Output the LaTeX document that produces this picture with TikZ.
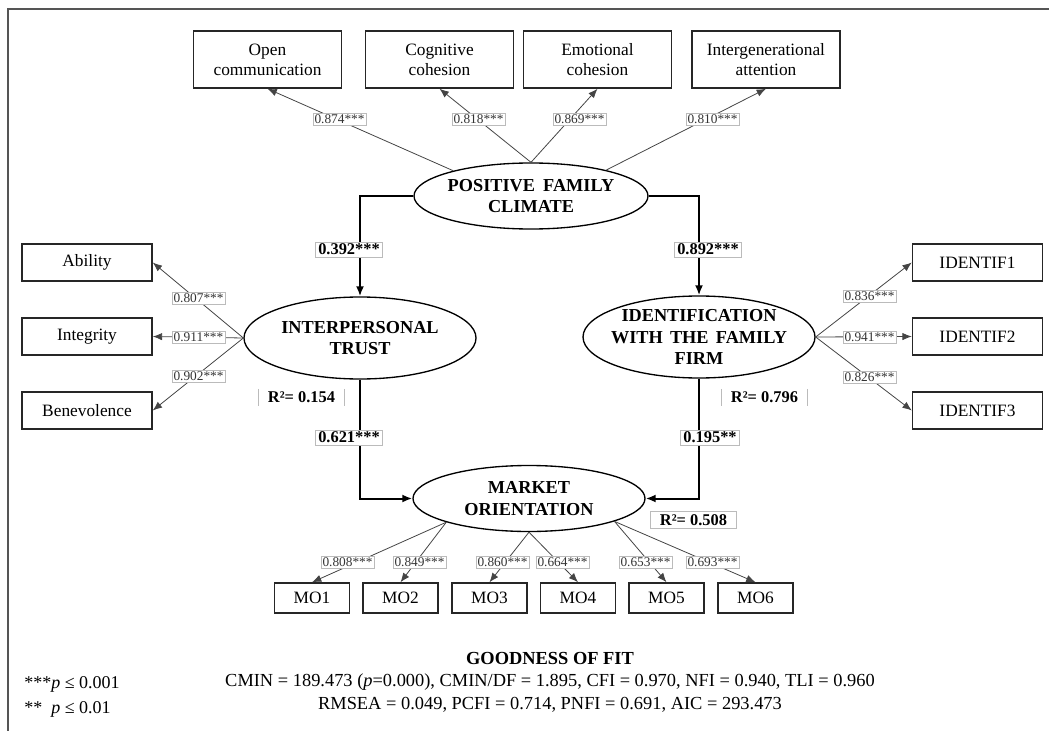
\documentclass[tikz,border=0pt]{standalone}
\usepackage{fontspec}
\setmainfont{Liberation Serif}
\usetikzlibrary{arrows.meta,shapes.geometric}
\definecolor{framecol}{HTML}{555555}
\definecolor{labelborder}{HTML}{BBBBBB}
\definecolor{loadcol}{HTML}{444444}
\begin{document}
\begin{tikzpicture}[x=0.75pt,y=-0.75pt,
  obs/.style={draw=black!85, line width=1.1pt, fill=white, align=center, inner sep=0pt, font=\fontsize{13}{15}\selectfont},
  topbox/.style={obs, minimum width=111pt, minimum height=42.75pt},
  sidebox/.style={obs, minimum width=97.5pt, minimum height=27.75pt},
  mobox/.style={obs, minimum width=56.25pt, minimum height=22.5pt},
  latent/.style={ellipse, draw=black, line width=1pt, inner sep=0pt},
  lattext/.style={align=center, inner sep=0pt, font=\fontsize{13.7}{16}\selectfont\bfseries},
  load/.style={draw=loadcol, line width=0.6pt, -{Latex[length=7pt,width=5.5pt]}},
  struct/.style={draw=black, line width=1.5pt, -{Latex[length=7.5pt,width=6pt]}},
  coef/.style={draw=labelborder, fill=white, line width=0.5pt, inner xsep=1.2pt, inner ysep=1pt, text=black!80, font=\fontsize{10}{11}\selectfont},
  scoef/.style={draw=labelborder, fill=white, line width=0.5pt, inner xsep=2pt, inner ysep=1.5pt, font=\fontsize{12.3}{13}\selectfont\bfseries},
  rtwo/.style={inner xsep=7pt, inner ysep=2pt, font=\fontsize{12.3}{13}\selectfont\bfseries},
  fit/.style={inner sep=0pt, font=\fontsize{13.8}{15}\selectfont}
]
\useasboundingbox (0,0) rectangle (1049,731);
\draw[framecol, line width=0.9pt] (1049,9) -- (8,9) -- (8,731);

% observed indicators
\node[topbox] (open) at (267.5,59.5) {Open\\communication};
\node[topbox] (cog) at (439.5,59.5) {Cognitive\\cohesion};
\node[topbox] (emo) at (597.5,59.5) {Emotional\\cohesion};
\node[topbox] (inter) at (766,59.5) {Intergenerational\\attention};

\node[sidebox] (abil) at (87,262.5) {Ability};
\node[sidebox] (integ) at (87,336.5) {Integrity};
\node[sidebox] (bene) at (87,410.5) {Benevolence};

\node[sidebox] (id1) at (977.5,262.5) {IDENTIF1};
\node[sidebox] (id2) at (977.5,336.5) {IDENTIF2};
\node[sidebox] (id3) at (977.5,410.5) {IDENTIF3};

\node[mobox] (mo1) at (312,598) {MO1};
\node[mobox] (mo2) at (400.5,598) {MO2};
\node[mobox] (mo3) at (489.5,598) {MO3};
\node[mobox] (mo4) at (578,598) {MO4};
\node[mobox] (mo5) at (666.5,598) {MO5};
\node[mobox] (mo6) at (755.5,598) {MO6};

% latent variables
\node[latent, minimum width=175.5pt, minimum height=49.5pt] (pfc) at (531,196) {};
\node[lattext] at (pfc) {POSITIVE\hspace{0.45em}FAMILY\\CLIMATE};
\node[latent, minimum width=174pt, minimum height=61.5pt] (trust) at (360,338) {};
\node[lattext] at (trust) {INTERPERSONAL\\TRUST};
\node[latent, minimum width=174pt, minimum height=61.5pt] (ident) at (699,337) {};
\node[lattext] at (ident) {IDENTIFICATION\\WITH\hspace{0.4em}THE\hspace{0.4em}FAMILY\\FIRM};
\node[latent, minimum width=174pt, minimum height=49.5pt] (mo) at (529,498.5) {};
\node[lattext] at (mo) {MARKET\\ORIENTATION};

% loadings
\draw[load] (pfc.162) -- (open.south);
\draw[load] (pfc.north) -- (cog.south);
\draw[load] (pfc.north) -- (emo.south);
\draw[load] (pfc.19) -- (inter.south);

\draw[load] (trust.west) -- (abil.east);
\draw[load] (trust.west) -- (integ.east);
\draw[load] (trust.west) -- (bene.east);

\draw[load] (ident.east) -- (id1.west);
\draw[load] (ident.east) -- (id2.west);
\draw[load] (ident.east) -- (id3.west);

\draw[load] (mo.196) -- (mo1.north);
\draw[load] (mo.196) -- (mo2.north);
\draw[load] (mo.south) -- (mo3.north);
\draw[load] (mo.south) -- (mo4.north);
\draw[load] (mo.-15) -- (mo5.north);
\draw[load] (mo.-15) -- (mo6.north);

% structural paths
\draw[struct] (pfc.west) -| (trust.north);
\draw[struct] (pfc.east) -| (ident.north);
\draw[struct] (trust.south) |- (mo.west);
\draw[struct] (ident.south) |- (mo.east);

% loading labels
\node[coef] at (339.5,119.5) {0.874***};
\node[coef] at (478.5,119.5) {0.818***};
\node[coef] at (579.5,119.5) {0.869***};
\node[coef] at (712.5,119.5) {0.810***};

\node[coef] at (198.5,298.5) {0.807***};
\node[coef] at (198.5,337.5) {0.911***};
\node[coef] at (198.5,376.5) {0.902***};

\node[coef] at (869.5,296) {0.836***};
\node[coef] at (869.5,337.5) {0.941***};
\node[coef] at (869.5,377.5) {0.826***};

\node[coef] at (347.5,562) {0.808***};
\node[coef] at (419.5,562) {0.849***};
\node[coef] at (502.5,562) {0.860***};
\node[coef] at (562.5,562) {0.664***};
\node[coef] at (645.5,562) {0.653***};
\node[coef] at (712.5,562) {0.693***};

% structural labels
\node[scoef] at (349,249.5) {0.392***};
\node[scoef] at (708,249.5) {0.892***};
\node[scoef] at (349,437.5) {0.621***};
\node[scoef] at (710,437.5) {0.195**};

% R squared
\node[rtwo] (r1) at (301.5,397.5) {R²= 0.154};
\draw[labelborder, line width=0.6pt] (r1.north west) -- (r1.south west) (r1.north east) -- (r1.south east);
\node[rtwo] (r2) at (764.5,397.5) {R²= 0.796};
\draw[labelborder, line width=0.6pt] (r2.north west) -- (r2.south west) (r2.north east) -- (r2.south east);
\node[rtwo, draw=labelborder, line width=0.6pt] (r3) at (693.5,520) {R²= 0.508};

% goodness of fit
\node[fit, font=\fontsize{13.8}{15}\selectfont\bfseries] (gof) at (550,658) {GOODNESS OF FIT};
\node[fit] (gof1) at (550,682) {CMIN = 189.473 (\textit{p}=0.000), CMIN/DF = 1.895, CFI = 0.970, NFI = 0.940, TLI = 0.960};
\node[fit] (gof2) at (550,705) {RMSEA = 0.049, PCFI = 0.714, PNFI = 0.691, AIC = 293.473};
\node[fit, font=\fontsize{13.5}{15}\selectfont, anchor=west] (leg1) at (24,684) {***\textit{p} ≤ 0.001};
\node[fit, font=\fontsize{13.5}{15}\selectfont, anchor=west] (leg2) at (24,709) {**\ \ \textit{p} ≤ 0.01};
\end{tikzpicture}
\end{document}
